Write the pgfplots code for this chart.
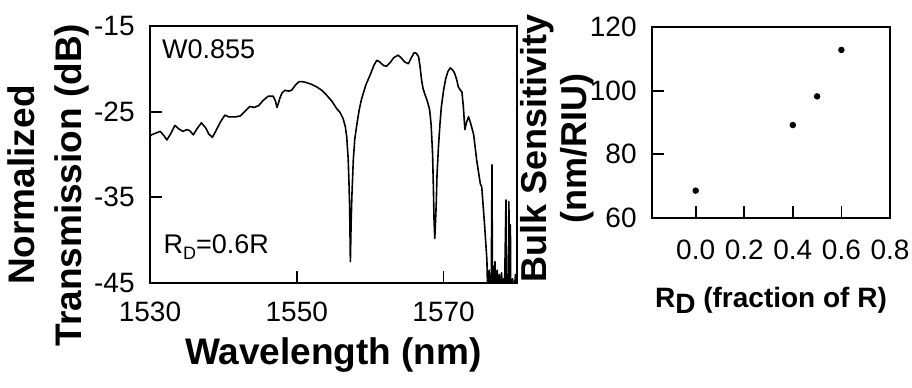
\documentclass[border=0pt]{standalone}
\usepackage{fontspec}
\setmainfont{Liberation Sans}
\usepackage{pgfplots}
\pgfplotsset{compat=1.18}
\pgfplotstableread{
x y
1530.0 -27.9
1530.2 -27.7
1530.8 -27.5
1531.4 -27.3
1531.9 -27.8
1532.3 -28.3
1532.8 -27.6
1533.4 -26.6
1533.9 -27.0
1534.5 -27.3
1535.0 -27.1
1535.4 -27.2
1535.9 -27.7
1536.4 -27.0
1537.0 -26.3
1537.6 -26.9
1538.0 -27.6
1538.5 -28.0
1539.0 -27.2
1539.6 -26.2
1540.2 -25.4
1540.7 -25.6
1541.1 -25.6
1541.7 -25.6
1542.3 -25.5
1543.0 -24.9
1543.6 -24.4
1544.2 -24.5
1544.8 -24.3
1545.4 -23.7
1546.1 -23.2
1546.8 -23.2
1547.1 -23.8
1547.3 -24.5
1547.5 -24.0
1547.7 -23.4
1548.0 -22.8
1548.4 -22.5
1548.9 -22.6
1549.3 -22.5
1549.8 -21.9
1550.3 -21.5
1550.8 -21.5
1551.3 -21.6
1552.0 -21.8
1552.7 -22.1
1553.4 -22.5
1554.1 -23.1
1554.8 -23.8
1555.4 -24.6
1555.9 -25.1
1556.3 -25.8
1556.6 -26.7
1556.8 -27.9
1557.0 -30.5
1557.1 -33.0
1557.2 -36.1
1557.3 -42.5
1557.4 -38.0
1557.5 -35.0
1557.7 -30.6
1557.9 -28.2
1558.2 -26.4
1558.5 -24.8
1558.8 -23.6
1559.4 -21.9
1560.0 -20.7
1560.5 -19.6
1560.9 -19.0
1561.3 -19.2
1561.8 -19.6
1562.2 -19.7
1562.7 -19.3
1563.2 -18.7
1563.8 -18.4
1564.2 -18.7
1564.7 -19.2
1565.2 -19.4
1565.6 -18.7
1566.0 -18.1
1566.3 -18.2
1566.6 -18.6
1566.8 -19.8
1567.0 -21.3
1567.2 -22.3
1567.5 -23.1
1567.8 -23.8
1568.1 -24.8
1568.3 -26.5
1568.5 -29.9
1568.6 -33.5
1568.7 -37.6
1568.8 -39.8
1568.9 -37.8
1569.0 -35.7
1569.1 -32.5
1569.3 -29.1
1569.5 -26.5
1569.7 -24.4
1570.0 -22.5
1570.3 -21.1
1570.6 -20.3
1570.9 -19.9
1571.2 -20.1
1571.5 -20.5
1571.8 -21.3
1572.0 -22.1
1572.3 -22.5
1572.5 -22.7
1572.7 -24.5
1572.9 -27.1
1573.1 -26.3
1573.4 -25.6
1573.7 -26.4
1574.1 -27.7
1574.5 -30.6
1575.0 -33.4
1575.2 -33.8
1575.4 -36.1
1575.6 -38.4
1575.8 -41.0
1575.9 -42.3
1576.0 -46.0
1576.2 -43.5
1576.35 -46.0
1576.5 -44.0
1576.6 -31.2
1576.65 -46.0
1576.8 -43.0
1576.9 -46.0
1577.0 -42.5
1577.1 -46.0
1577.3 -43.5
1577.4 -46.0
1577.6 -44.0
1577.7 -46.0
1577.9 -43.8
1578.0 -46.0
1578.2 -44.5
1578.3 -46.0
1578.5 -35.3
1578.55 -46.0
1578.7 -44.0
1578.8 -46.0
1578.9 -35.5
1578.95 -46.0
1579.1 -38.2
1579.15 -46.0
1579.4 -44.5
1579.6 -46.0
1579.8 -44.0
1580.0 -46.0
}\spectrum
\pgfplotstableread{
x y
0.0 68.6
0.4 89.2
0.5 98.2
0.6 112.8
}\sens
\begin{document}
\begin{tikzpicture}
\useasboundingbox (0,0) rectangle (456pt,-193.5pt);
\pgfplotsset{
  every axis/.append style={
    scale only axis,
    tick align=inside,
    xtick pos=left, ytick pos=left,
    major tick length=6pt,
    tick style={black, line width=0.9pt},
    axis line style={black, line width=0.9pt},
    ticklabel style={font=\fontsize{14}{16}\selectfont, inner sep=0pt},
    yticklabel style={anchor=east, xshift=-7.5pt},
    /pgf/number format/assume math mode=true,
  }
}
\begin{axis}[
  at={(75pt,-13pt)}, anchor=north west,
  width=183.5pt, height=128.5pt,
  xmin=1530, xmax=1580, ymin=-45, ymax=-15,
  xtick={1530,1550,1570}, xticklabels={1530,1550,1570},
  ytick={-45,-35,-25,-15}, yticklabels={-45,-35,-25,-15},
  xticklabel style={anchor=north, yshift=-9.5pt},
  xlabel={Wavelength (nm)},
  xlabel style={at={(axis description cs:0.5,-0.319)}, anchor=base, font=\fontsize{18.5}{22}\selectfont\bfseries},
  ylabel={Normalized\\Transmission (dB)},
  ylabel style={at={(axis description cs:-0.278,0.381)}, anchor=center, align=center, font=\fontsize{18.5}{23.5}\selectfont\bfseries},
]
\addplot[black, line width=0.8pt, line join=round] table[x=x,y=y] {\spectrum};
\node[anchor=base west, inner sep=0pt, font=\fontsize{13.5}{16}\selectfont] at (axis cs:1531.6,-18.85) {W0.855};
\node[anchor=base west, inner sep=0pt, font=\fontsize{13.5}{16}\selectfont] at (axis cs:1531.8,-41.5) {R\raisebox{-0.45ex}{\fontsize{9}{10}\selectfont D}=0.6R};
\end{axis}
\begin{axis}[
  at={(326pt,-13.5pt)}, anchor=north west,
  width=119pt, height=95.5pt,
  xmin=-0.18, xmax=0.8, ymin=60, ymax=120,
  xtick={0,0.2,0.4,0.6,0.8}, xticklabels={0.0,0.2,0.4,0.6,0.8},
  ytick={60,80,100,120}, yticklabels={60,80,100,120},
  xticklabel style={anchor=north, yshift=-11pt},
  xlabel={R\raisebox{-3pt}{D} (fraction of R)},
  xlabel style={at={(axis description cs:0.5,-0.466)}, anchor=base, font=\fontsize{14}{16}\selectfont\bfseries},
  ylabel={Bulk Sensitivity\\(nm/RIU)},
  ylabel style={at={(axis description cs:-0.399,0.366)}, anchor=center, align=center, font=\fontsize{18}{20}\selectfont\bfseries},
]
\addplot[only marks, mark=*, mark size=1.4pt, black] table[x=x,y=y] {\sens};
\end{axis}
\end{tikzpicture}
\end{document}
